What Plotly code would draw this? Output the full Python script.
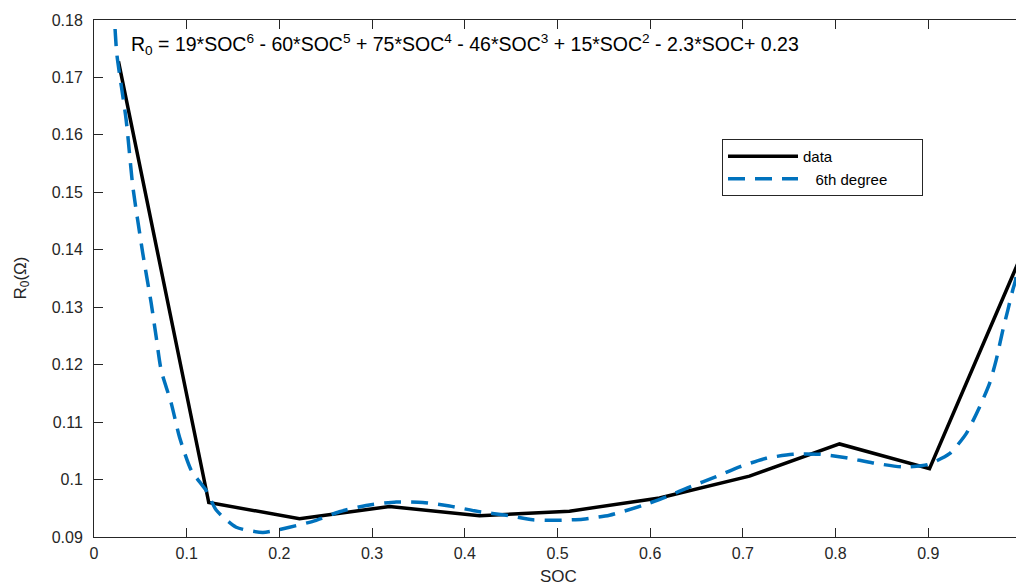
import plotly.graph_objects as go

# Measured internal resistance vs state of charge
soc_data = [0.0264, 0.1238, 0.2217, 0.3188, 0.4159, 0.5129, 0.6100, 0.7071, 0.8042, 0.9013, 1.0]
r0_data = [0.1728, 0.0960, 0.0932, 0.0953, 0.0937, 0.0945, 0.0968, 0.1006, 0.1062, 0.1019, 0.1389]

# 6th-degree fit curve, sampled points
soc_fit = [0.0, 0.011, 0.0221, 0.0246, 0.0347, 0.0419, 0.0526, 0.0617, 0.0671, 0.0725, 0.0833,
           0.0922, 0.1049, 0.1210, 0.1318, 0.1534, 0.1821, 0.2109, 0.2397, 0.2648, 0.2936,
           0.3260, 0.3547, 0.3835, 0.4159, 0.4447, 0.4734, 0.4986, 0.5273, 0.5561, 0.5920,
           0.6173, 0.6424, 0.6712, 0.6963, 0.7251, 0.7538, 0.7826, 0.8114, 0.8401, 0.8725,
           0.8991, 0.9229, 0.9409, 0.9552, 0.9660, 0.9732, 0.9804, 0.9858, 0.9911, 0.9941, 1.0]
r0_fit = [0.2300, 0.2040, 0.1800, 0.1741, 0.1626, 0.1510, 0.1394, 0.1307, 0.1248, 0.1190, 0.1133,
          0.1074, 0.1016, 0.0981, 0.0947, 0.0917, 0.0908, 0.0917, 0.0929, 0.0944, 0.0955,
          0.0961, 0.0960, 0.0954, 0.0944, 0.0938, 0.0930, 0.0929, 0.0931, 0.0938, 0.0955,
          0.0970, 0.0987, 0.1005, 0.1022, 0.1037, 0.1044, 0.1044, 0.1038, 0.1029, 0.1022,
          0.1026, 0.1045, 0.1080, 0.1126, 0.1167, 0.1208, 0.1260, 0.1295, 0.1330, 0.1347, 0.1420]

x_ticks = [0, 0.1, 0.2, 0.3, 0.4, 0.5, 0.6, 0.7, 0.8, 0.9]
y_ticks = [0.09, 0.1, 0.11, 0.12, 0.13, 0.14, 0.15, 0.16, 0.17, 0.18]

equation = ("R<sub>0</sub> = 19*SOC<sup>6</sup> - 60*SOC<sup>5</sup> + 75*SOC<sup>4</sup> "
            "- 46*SOC<sup>3</sup> + 15*SOC<sup>2</sup> - 2.3*SOC+ 0.23")

FONT = "Liberation Sans, Arial, Helvetica, sans-serif"
INK = "#262626"
BLUE = "#0072BD"
NB = "\u00a0"

fig = go.Figure()
fig.add_trace(go.Scatter(
    x=soc_data, y=r0_data, mode="lines", name="data",
    line=dict(color="black", width=3.5),
))
fig.add_trace(go.Scatter(
    x=soc_fit, y=r0_fit, mode="lines", name=NB * 3 + "6th degree" + NB * 7,
    line=dict(color=BLUE, width=3.5, dash="17px,10px", shape="spline", smoothing=0.6),
))

fig.update_layout(
    width=1016, height=588,
    margin=dict(l=94, r=0, t=20, b=51),
    paper_bgcolor="white", plot_bgcolor="white",
    font=dict(family=FONT, size=16, color=INK),
    showlegend=True,
    legend=dict(
        x=(722 - 94) / 922, y=(537 - 139) / 517, xanchor="left", yanchor="top",
        bgcolor="white", bordercolor=INK, borderwidth=1,
        font=dict(family=FONT, size=15, color="black"),
        itemwidth=70, tracegroupgap=0,
    ),
    xaxis=dict(
        range=[0, 0.9946], tickvals=x_ticks, ticktext=[f"{v:g}" for v in x_ticks],
        ticks="inside", ticklen=9, tickwidth=1, tickcolor=INK,
        showline=True, linecolor=INK, linewidth=1, mirror="ticks",
        showgrid=False, zeroline=False,
        tickfont=dict(size=16, color=INK), ticklabelstandoff=2,
    ),
    yaxis=dict(
        range=[0.09, 0.18], tickvals=y_ticks, ticktext=[f"{v:g}" for v in y_ticks],
        ticks="inside", ticklen=9, tickwidth=1, tickcolor=INK,
        showline=True, linecolor=INK, linewidth=1, mirror=False,
        showgrid=False, zeroline=False,
        tickfont=dict(size=16, color=INK), ticklabelstandoff=7,
    ),
    yaxis2=dict(
        overlaying="y", side="right", matches="y", range=[0.09, 0.18],
        tickvals=y_ticks, ticks="inside", ticklen=9, tickwidth=1, tickcolor=INK,
        showticklabels=False, showline=False, showgrid=False, zeroline=False,
    ),
)

# axis titles
fig.add_annotation(
    text="SOC", xref="paper", yref="paper", x=(558 - 94) / 922, y=0,
    xanchor="center", yanchor="middle", yshift=-39, showarrow=False,
    font=dict(family=FONT, size=17, color=INK),
)
fig.add_annotation(
    text="R<sub>0</sub>(\u03a9)", xref="paper", yref="paper", x=0, y=0.5,
    xanchor="center", yanchor="middle", xshift=-73, textangle=-90, showarrow=False,
    font=dict(family=FONT, size=17, color=INK),
)
# fitted polynomial
fig.add_annotation(
    text=equation, xref="paper", yref="paper", x=(129 - 94) / 922, y=(537 - 44) / 517,
    xanchor="left", yanchor="middle", showarrow=False,
    font=dict(family=FONT, size=19.5, color="black"),
)

fig.write_html("out.html")
